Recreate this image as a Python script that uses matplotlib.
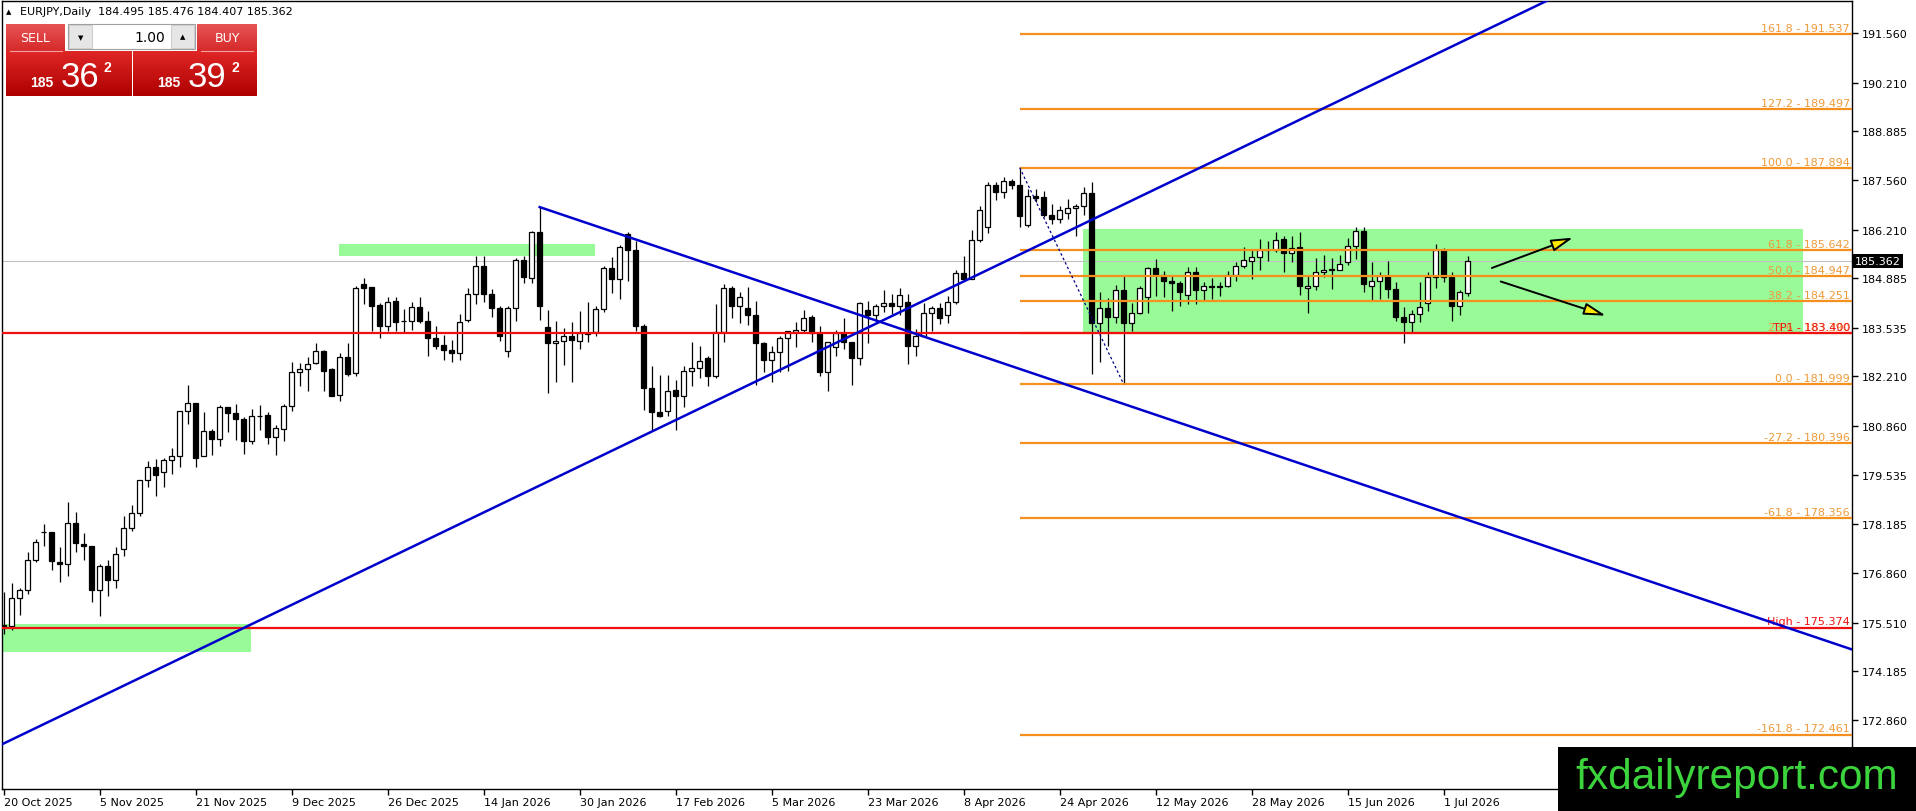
import matplotlib
matplotlib.use("Agg")
import matplotlib.pyplot as plt
import matplotlib.transforms as mtransforms
from matplotlib.patches import Rectangle
from matplotlib.lines import Line2D
from matplotlib.colors import LinearSegmentedColormap
import numpy as np

W, H = 1916, 812

# daily EURJPY bars (20 Oct 2025 .. early Jul 2026)
opens = [175.45, 175.43, 176.17, 176.39, 177.21, 177.97, 177.97, 177.16, 177.10, 178.21,
         177.64, 177.59, 176.39, 177.04, 176.68, 177.51, 178.08, 178.49, 179.40, 179.74,
         179.60, 179.93, 180.04, 181.27, 181.48, 180.04, 180.73, 180.50, 181.37, 181.22,
         181.05, 180.44, 181.13, 181.16, 180.55, 180.78, 181.40, 182.32, 182.40, 182.58,
         182.90, 182.40, 181.71, 182.73, 182.30, 184.72, 184.64, 184.16, 183.59, 184.26,
         183.72, 183.73, 184.09, 183.71, 183.25, 183.07, 182.94, 182.84, 183.76, 184.45,
         185.23, 184.46, 184.08, 182.90, 184.07, 185.38, 184.88, 186.13, 183.55, 183.11,
         183.18, 183.32, 183.18, 183.36, 183.41, 184.05, 185.15, 184.85, 186.09, 185.66,
         183.58, 181.89, 181.23, 181.28, 181.84, 181.67, 182.35, 182.43, 182.71, 182.21,
         183.43, 184.62, 184.12, 184.07, 183.88, 183.12, 182.65, 182.87, 183.25, 183.41,
         183.48, 183.82, 183.39, 182.32, 183.00, 183.39, 183.14, 182.70, 184.03, 183.88,
         184.14, 184.21, 184.14, 184.23, 183.05, 183.30, 183.94, 184.07, 183.87, 184.23,
         185.02, 184.85, 185.93, 186.27, 187.42, 187.22, 187.52, 187.42, 186.32, 187.13,
         187.09, 186.61, 186.50, 186.65, 186.79, 186.84, 187.20, 183.67, 184.07, 183.82,
         184.55, 183.67, 183.94, 184.37, 185.15, 184.96, 184.82, 184.75, 184.43, 185.06,
         184.57, 184.65, 184.66, 184.67, 184.96, 185.21, 185.36, 185.45, 185.64, 185.66,
         185.95, 185.57, 185.73, 184.61, 184.66, 185.05, 185.12, 185.10, 185.32, 185.75,
         186.16, 184.68, 184.82, 184.94, 184.59, 183.82, 183.70, 183.90, 184.21, 184.91,
         185.64, 184.93, 184.12, 184.495]
highs = [176.34, 176.59, 176.44, 177.44, 177.79, 178.20, 177.97, 177.56, 178.79, 178.51,
         177.95, 177.59, 177.11, 177.20, 177.56, 178.40, 178.71, 179.40, 179.90, 179.97,
         179.98, 180.26, 181.28, 181.98, 181.48, 181.24, 180.78, 181.43, 181.37, 181.45,
         181.10, 181.33, 181.43, 181.25, 180.89, 181.46, 182.60, 182.58, 182.73, 183.12,
         182.94, 182.43, 182.85, 183.12, 184.68, 184.88, 184.64, 184.20, 184.37, 184.37,
         184.05, 184.23, 184.37, 184.00, 183.58, 183.34, 183.19, 183.91, 184.63, 185.50,
         185.50, 184.59, 184.12, 184.12, 185.44, 185.50, 186.16, 186.81, 184.03, 183.73,
         183.52, 183.68, 184.00, 184.23, 184.14, 185.21, 185.45, 185.78, 186.15, 185.91,
         183.64, 182.49, 182.25, 182.25, 182.12, 182.49, 183.14, 183.03, 182.78, 184.17,
         184.73, 184.68, 184.50, 184.64, 184.27, 183.14, 183.03, 183.32, 183.46, 183.70,
         184.03, 183.87, 183.59, 183.14, 183.48, 183.79, 183.14, 184.23, 184.27, 184.18,
         184.56, 184.46, 184.62, 184.46, 183.50, 184.21, 184.14, 184.21, 184.41, 185.12,
         185.48, 186.21, 186.84, 187.50, 187.50, 187.63, 187.59, 187.894, 187.31, 187.31,
         187.27, 186.91, 186.84, 187.04, 186.91, 187.36, 187.50, 184.52, 184.34, 184.70,
         184.94, 184.21, 184.68, 185.18, 185.41, 185.09, 184.96, 184.82, 185.18, 185.18,
         184.77, 184.88, 184.79, 185.09, 185.32, 185.73, 185.64, 185.95, 185.91, 186.15,
         186.04, 186.04, 186.15, 184.94, 185.43, 185.52, 185.43, 185.52, 185.99, 186.27,
         186.27, 185.32, 185.06, 185.36, 184.79, 184.09, 184.03, 184.77, 185.05, 185.82,
         185.70, 185.05, 184.57, 185.476]
lows = [175.20, 175.32, 175.72, 176.28, 177.17, 177.59, 176.95, 176.61, 176.79, 177.43,
        177.20, 176.06, 175.68, 176.24, 176.46, 177.32, 177.99, 178.42, 179.19, 178.95,
        179.21, 179.56, 179.74, 180.91, 179.74, 180.04, 180.06, 180.31, 180.71, 180.49,
        180.09, 180.38, 180.76, 180.36, 180.06, 180.44, 181.28, 181.96, 181.82, 182.55,
        181.81, 181.67, 181.53, 182.23, 182.21, 184.18, 183.46, 183.25, 183.46, 183.46,
        183.39, 183.48, 183.67, 182.76, 182.96, 182.67, 182.60, 182.67, 183.70, 184.18,
        184.25, 183.82, 183.17, 182.73, 183.73, 184.76, 184.75, 183.76, 181.76, 182.07,
        182.52, 182.05, 182.96, 183.14, 183.32, 183.96, 184.48, 184.32, 184.82, 183.46,
        181.31, 180.76, 181.10, 181.13, 180.76, 181.37, 181.94, 182.16, 181.94, 182.16,
        183.16, 183.79, 183.67, 183.61, 181.99, 182.32, 182.07, 182.32, 182.37, 183.00,
        183.41, 183.16, 182.21, 181.82, 182.78, 182.96, 181.98, 182.52, 183.12, 183.68,
        183.96, 183.91, 183.89, 182.55, 182.78, 183.28, 183.46, 183.64, 183.67, 184.18,
        184.80, 184.85, 185.88, 186.12, 187.02, 187.06, 187.31, 186.27, 186.27, 186.95,
        186.54, 186.36, 186.39, 186.50, 186.03, 186.61, 182.28, 182.60, 183.05, 183.67,
        181.999, 183.46, 183.91, 183.94, 184.41, 184.37, 184.00, 184.14, 184.18, 184.18,
        184.28, 184.32, 184.39, 184.64, 184.82, 185.15, 184.85, 185.12, 185.34, 185.59,
        185.06, 185.32, 184.43, 183.94, 184.55, 184.91, 184.59, 185.10, 185.25, 185.41,
        184.50, 184.30, 184.32, 184.34, 183.73, 183.12, 183.43, 183.68, 184.00, 184.61,
        184.79, 183.73, 183.88, 184.407]
closes = [175.41, 176.17, 176.41, 177.21, 177.70, 177.98, 177.18, 177.10, 178.21, 177.67,
          177.59, 176.39, 177.04, 176.68, 177.37, 178.08, 178.49, 179.40, 179.74, 179.54,
          179.94, 180.04, 181.27, 181.48, 180.00, 180.73, 180.50, 181.37, 181.21, 181.05,
          180.44, 181.13, 181.14, 180.55, 180.80, 181.40, 182.32, 182.40, 182.56, 182.89,
          182.37, 181.69, 182.73, 182.28, 184.62, 184.63, 184.14, 183.59, 184.23, 183.70,
          183.73, 184.09, 183.73, 183.25, 183.05, 182.94, 182.84, 183.68, 184.45, 185.23,
          184.45, 184.08, 183.30, 184.07, 185.38, 184.91, 186.13, 184.14, 183.11, 183.18,
          183.32, 183.21, 183.38, 183.40, 184.05, 185.16, 184.85, 185.73, 185.66, 183.59,
          181.89, 181.25, 181.14, 181.82, 181.67, 182.35, 182.43, 182.63, 182.21, 183.43,
          184.62, 184.12, 184.36, 183.87, 183.11, 182.65, 182.87, 183.25, 183.46, 183.48,
          183.79, 183.39, 182.32, 183.14, 183.39, 183.14, 182.70, 184.21, 183.88, 184.14,
          184.21, 184.14, 184.44, 183.05, 183.30, 183.94, 184.07, 183.79, 184.23, 185.02,
          184.85, 185.93, 186.74, 187.42, 187.22, 187.52, 187.42, 186.57, 187.13, 187.06,
          186.61, 186.50, 186.74, 186.79, 186.84, 187.20, 183.67, 184.07, 183.82, 184.55,
          183.67, 183.94, 184.61, 185.15, 185.00, 184.82, 184.75, 184.52, 185.06, 184.57,
          184.68, 184.66, 184.65, 184.96, 185.21, 185.38, 185.45, 185.66, 185.66, 185.93,
          185.56, 185.71, 184.68, 184.66, 185.05, 185.12, 185.13, 185.26, 185.75, 186.16,
          184.72, 184.82, 184.94, 184.59, 183.82, 183.70, 183.90, 184.10, 184.91, 185.64,
          184.91, 184.12, 184.50, 185.362]

date_pos = [0, 12, 24, 36, 48, 60, 72, 84, 96, 108, 120, 132, 144, 156, 168, 180]
date_labels = ["20 Oct 2025", "5 Nov 2025", "21 Nov 2025", "9 Dec 2025", "26 Dec 2025",
               "14 Jan 2026", "30 Jan 2026", "17 Feb 2026", "5 Mar 2026", "23 Mar 2026",
               "8 Apr 2026", "24 Apr 2026", "12 May 2026", "28 May 2026", "15 Jun 2026",
               "1 Jul 2026"]
price_ticks = [191.560, 190.210, 188.885, 187.560, 186.210, 184.885, 183.535, 182.210,
               180.860, 179.535, 178.185, 176.860, 175.510, 174.185, 172.860]

fib_ratios = ["161.8", "127.2", "100.0", "61.8", "50.0", "38.2", "23.6", "0.0",
              "-27.2", "-61.8", "-161.8"]
fib_values = [191.537, 189.497, 187.894, 185.642, 184.947, 184.251, 183.390, 181.999,
              180.396, 178.356, 172.461]
fib_start = 127

tp1 = 183.400
high_level = 175.374
last_price = 185.362

# support / resistance zones: bar from, bar to, price low, price high
zone_x0 = [41.9, -1.0, 134.95]
zone_x1 = [73.9, 30.9, 224.9]
zone_lo = [185.49, 174.72, 183.41]
zone_hi = [185.82, 175.47, 186.225]

# trend lines (bar index, price)
rise_x, rise_y = [-1, 200], [172.115, 193.18]
fall_x, fall_y = [67, 240], [186.82, 174.12]
swing_x, swing_y = [127, 140], [187.894, 181.999]

# scenario arrows: start, end
arrow_up = [(185.7, 185.136), (196.5, 186.015)]
arrow_dn = [(186.8, 184.818), (200.6, 183.84)]

fig = plt.figure(figsize=(W / 100, H / 100), dpi=100)
fig.patch.set_facecolor("white")
ax = fig.add_axes([2 / W, 22 / H, 1850 / W, 788 / H])
ax.set_xlim(-0.2125, 231.04)
ax.set_ylim(170.98, 192.43)

# zones
for x0, x1, lo, hi in zip(zone_x0, zone_x1, zone_lo, zone_hi):
    ax.add_patch(Rectangle((x0, lo), x1 - x0, hi - lo, fc="#98FB98", ec="none", zorder=1))

ax.axhline(last_price, color="#C0C0C0", lw=0.8, zorder=1.5)

# candles
o = np.array(opens); h = np.array(highs); l = np.array(lows); c = np.array(closes)
x = np.arange(len(o))
up = c >= o
ax.vlines(x, l, h, color="black", lw=0.9, zorder=3)
ax.bar(x[up], np.maximum((c - o)[up], 0.01), bottom=o[up], width=0.6,
       fc="white", ec="black", lw=0.9, zorder=4)
ax.bar(x[~up], (o - c)[~up], bottom=c[~up], width=0.6,
       fc="black", ec="black", lw=0.9, zorder=4)

# fibonacci
blend = mtransforms.blended_transform_factory(ax.transAxes, ax.transData)
ax.hlines(fib_values, fib_start, 240, color="#F5901E", lw=1.6, zorder=5)
for r, v in zip(fib_ratios, fib_values):
    ax.text(0.9989, v + 0.03, "{} - {:.3f}".format(r, v), transform=blend,
            ha="right", va="bottom", fontsize=8, color="#EE9A3A", zorder=6)
ax.plot(swing_x, swing_y, color="#000080", lw=0.9, ls=(0, (2, 2)), zorder=5)

# red levels
ax.axhline(tp1, color="#F01010", lw=1.6, zorder=5.5)
ax.axhline(high_level, color="#F01010", lw=1.6, zorder=5.5)
ax.text(0.9989, tp1 + 0.03, "TP1 - {:.3f}".format(tp1), transform=blend,
        ha="right", va="bottom", fontsize=8, color="#F01010", zorder=6)
ax.text(0.9989, high_level + 0.03, "High - {:.3f}".format(high_level), transform=blend,
        ha="right", va="bottom", fontsize=8, color="#F01010", zorder=6)

# trend lines
ax.plot(rise_x, rise_y, color="#0000CD", lw=1.8, zorder=6)
ax.plot(fall_x, fall_y, color="#0000CD", lw=1.8, zorder=6)

for a in (arrow_up, arrow_dn):
    ax.annotate("", xy=a[1], xytext=a[0],
                arrowprops=dict(arrowstyle="-|>,head_length=1.1,head_width=0.3",
                                mutation_scale=12, fc="#FFE800", ec="black", lw=1.4),
                zorder=7)

# axes look
for s in ax.spines.values():
    s.set_color("black")
    s.set_linewidth(1)
ax.yaxis.tick_right()
ax.set_yticks(price_ticks)
ax.set_yticklabels(["{:.3f}".format(v) for v in price_ticks])
ax.tick_params(axis="y", direction="out", length=4, width=1, pad=3, labelsize=8)
ax.set_xticks(date_pos)
ax.set_xticklabels(date_labels)
for t in ax.get_xticklabels():
    t.set_horizontalalignment("left")
ax.tick_params(axis="x", direction="out", length=4, width=1, pad=2, labelsize=8)

ax.text(1.0015, last_price, "{:.3f}".format(last_price), transform=blend, ha="left",
        va="center", fontsize=8, color="white", clip_on=False, zorder=8,
        bbox=dict(boxstyle="square,pad=0.18", fc="black", ec="none"))


# ---- overlays in pixel coordinates (top-left origin) ----
def fx(px):
    return px / W


def fy(py):
    return 1 - py / H


fig.text(fx(6), fy(12), "\u25B2", fontsize=5, va="center")
fig.text(fx(20), fy(12), "EURJPY,Daily  184.495 185.476 184.407 185.362",
         fontsize=8, va="center")


def grad_box(x0, y0, x1, y1, c_top, c_bot):
    b = fig.add_axes([fx(x0), fy(y1), (x1 - x0) / W, (y1 - y0) / H])
    cmap = LinearSegmentedColormap.from_list("g", [c_top, c_bot])
    b.imshow(np.linspace(0, 1, 60).reshape(-1, 1), aspect="auto", cmap=cmap,
             extent=[0, 1, 0, 1])
    b.set_axis_off()
    return b


grad_box(6, 25, 65, 52, "#E85454", "#D52A2A")
grad_box(197, 25, 257, 52, "#E85454", "#D52A2A")
grad_box(6, 52, 131, 97, "#E02626", "#AE0000")
grad_box(133, 52, 257, 97, "#E02626", "#AE0000")
fig.add_artist(Line2D([fx(10), fx(62)], [fy(52), fy(52)], color="#F4A0A0", lw=0.8))
fig.add_artist(Line2D([fx(201), fx(253)], [fy(52), fy(52)], color="#F4A0A0", lw=0.8))
fig.text(fx(35.5), fy(38.5), "SELL", fontsize=9, color="white", ha="center", va="center")
fig.text(fx(227), fy(38.5), "BUY", fontsize=9, color="white", ha="center", va="center")

fig.add_artist(Rectangle((fx(68), fy(50)), 127 / W, 25 / H, transform=fig.transFigure,
                         fc="white", ec="#A0A0A0", lw=0.8))
fig.add_artist(Rectangle((fx(69), fy(49)), 23 / W, 23 / H, transform=fig.transFigure,
                         fc="#E6E6E6", ec="#C8C8C8", lw=0.6))
fig.add_artist(Rectangle((fx(171), fy(49)), 23 / W, 23 / H, transform=fig.transFigure,
                         fc="#E6E6E6", ec="#C8C8C8", lw=0.6))
fig.text(fx(80.5), fy(38), "\u25BC", fontsize=5, ha="center", va="center")
fig.text(fx(182.5), fy(37), "\u25B2", fontsize=5, ha="center", va="center")
fig.text(fx(165), fy(37.5), "1.00", fontsize=10, ha="right", va="center")

for x185, xbig, xsup, big in [(30, 61, 103, "36"), (157, 188, 232, "39")]:
    fig.text(fx(x185), fy(87), "185", fontsize=10, fontweight="bold", color="white",
             family="Liberation Sans", va="baseline")
    fig.text(fx(xbig), fy(87), big, fontsize=25, color="white",
             family="Liberation Sans", va="baseline")
    fig.text(fx(xsup), fy(61), "2", fontsize=10, fontweight="bold", color="white",
             family="Liberation Sans", va="top")

# watermark
fig.add_artist(Rectangle((fx(1558), 0), (W - 1558) / W, 64 / H, transform=fig.transFigure,
                         fc="black", ec="none", zorder=10))
fig.text(fx(1575), fy(789), "fxdailyreport.com", fontsize=30.5, color="#3CD43C",
         family="Liberation Sans", va="baseline", zorder=11)

fig.savefig("out.png", dpi=100)
